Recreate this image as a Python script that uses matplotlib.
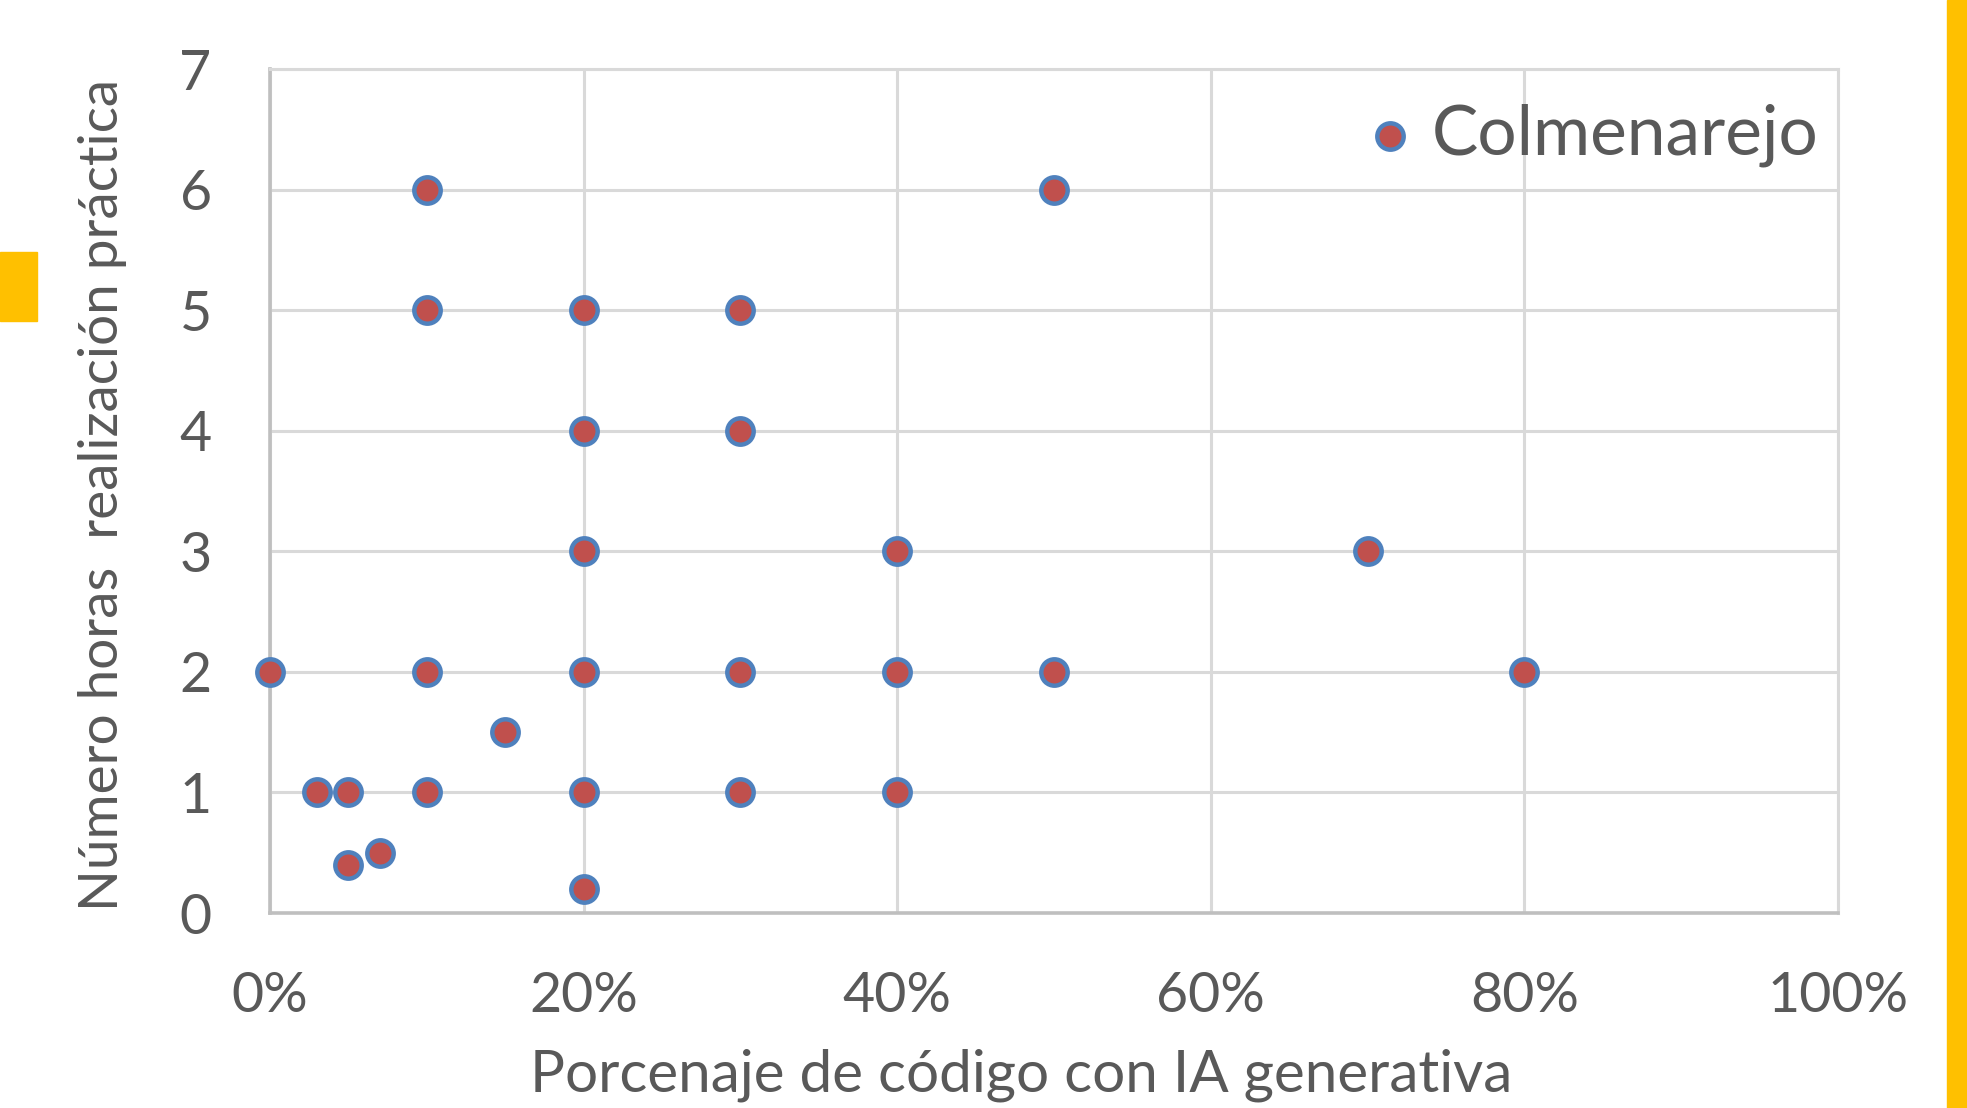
import matplotlib
matplotlib.use("Agg")
import matplotlib.pyplot as plt
from matplotlib.patches import Rectangle
from matplotlib.ticker import PercentFormatter

# percentage of code written with generative AI vs hours spent
pct_ia = [0, 3, 5, 5, 7, 10, 10, 10, 10, 15, 20, 20, 20, 20, 20, 20,
          30, 30, 30, 30, 40, 40, 40, 50, 50, 70, 80]
horas = [2, 1, 1, 0.4, 0.5, 6, 5, 2, 1, 1.5, 5, 4, 3, 2, 1, 0.2,
         5, 4, 2, 1, 3, 2, 1, 6, 2, 3, 2]
serie = "Colmenarejo"
x_ticks = [0, 20, 40, 60, 80, 100]
y_ticks = [0, 1, 2, 3, 4, 5, 6, 7]

txt = "#595959"
plt.rcParams['font.family'] = ['Lato', 'DejaVu Sans']

fig = plt.figure(figsize=(19.67, 11.08), dpi=100)
ax = fig.add_axes([270/1967, 1-913/1108, (1838-270)/1967, (913-69)/1108])

ax.scatter([p/100 for p in pct_ia], horas, s=19**2, c="#C0504D",
           edgecolors="#4F81BD", linewidths=3.2, zorder=3, label=serie,
           clip_on=False)

ax.set_xlim(0, 1)
ax.set_ylim(0, 7)
ax.set_xticks([t/100 for t in x_ticks])
ax.set_yticks(y_ticks)
ax.xaxis.set_major_formatter(PercentFormatter(1.0, decimals=0))
ax.grid(True, color="#D9D9D9", linewidth=2.2, zorder=0)
ax.set_axisbelow(True)
for s in ["top", "right"]:
    ax.spines[s].set_color("#D9D9D9")
    ax.spines[s].set_linewidth(2.2)
for s in ["left", "bottom"]:
    ax.spines[s].set_color("#BFBFBF")
    ax.spines[s].set_linewidth(2.6)
ax.tick_params(length=0, labelsize=40, labelcolor=txt, pad=42)

fig.text(1021/1967, 1-1075/1108, "Porcenaje de código con IA generativa",
         ha="center", va="center", fontsize=42, color=txt)
fig.text(103/1967, 1-495/1108, "Número horas  realización práctica",
         ha="center", va="center", rotation=90, fontsize=39.5, color=txt)

ax.legend(loc="center right", bbox_to_anchor=(1818/1967, 1-135/1108),
          bbox_transform=fig.transFigure, frameon=False, fontsize=50,
          labelcolor=txt, handletextpad=0.1, handlelength=0.98,
          borderpad=0, borderaxespad=0, markerscale=1.0)

# yellow slide decorations
fig.patches.append(Rectangle((0, 1-321/1108), 37/1967, 69/1108,
                             transform=fig.transFigure, color="#FFC000"))
fig.patches.append(Rectangle((1947/1967, 0), 20/1967, 1,
                             transform=fig.transFigure, color="#FFC000"))

fig.savefig("out.png", dpi=100)
